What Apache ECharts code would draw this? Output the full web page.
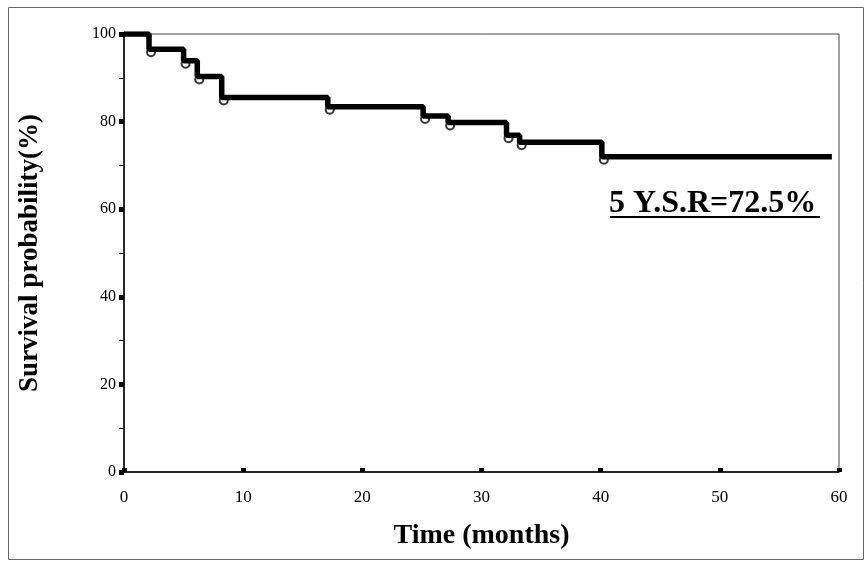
<!DOCTYPE html>
<html>
<head>
<meta charset="utf-8">
<script src="https://cdn.jsdelivr.net/npm/echarts@6/dist/echarts.min.js"></script>
<style>
  html, body { margin: 0; padding: 0; background: #fff; }
  #chart { width: 865px; height: 563px; }
</style>
</head>
<body>
<div id="chart"></div>
<script>
// survival curve: time of each drop (months) and the level after it (%)
const dropTimes = [0, 2.1, 5.0, 6.15, 8.2, 17.1, 25.1, 27.2, 32.1, 33.2, 40.1, 59.4];
const survival = [100, 96.5, 93.9, 90.3, 85.5, 83.4, 81.3, 79.8, 76.9, 75.3, 72, 72];
// censored marks sit at the bottom of each drop
const markTimes = [2.1, 5.0, 6.15, 8.2, 17.1, 25.1, 27.2, 32.1, 33.2, 40.1];
const markLevels = [96.5, 93.9, 90.3, 85.5, 83.4, 81.3, 79.8, 76.9, 75.3, 72];
const xTicks = [0, 10, 20, 30, 40, 50, 60];
const yTicks = [0, 20, 40, 60, 80, 100];
const annotation = '5 Y.S.R=72.5%';

const serif = '"Liberation Serif", "DejaVu Serif", serif';
const chart = echarts.init(document.getElementById('chart'));

const option = {
  backgroundColor: '#fff',
  animation: false,
  grid: {
    left: 124,
    right: 26,
    top: 34,
    bottom: 91,
    show: true,
    borderColor: '#444',
    borderWidth: 1,
  },
  xAxis: {
    type: 'value',
    min: xTicks[0],
    max: xTicks[xTicks.length - 1],
    interval: 10,
    name: 'Time (months)',
    nameLocation: 'middle',
    nameGap: 50,
    nameTextStyle: { fontFamily: serif, fontWeight: 'bold', fontSize: 28, color: '#000' },
    axisLine: { lineStyle: { color: '#000', width: 1.5 } },
    axisTick: { inside: true, length: 4, lineStyle: { color: '#000', width: 5 } },
    axisLabel: { fontFamily: serif, fontSize: 17, color: '#000', margin: 17 },
    splitLine: { show: false },
  },
  yAxis: {
    type: 'value',
    min: yTicks[0],
    max: yTicks[yTicks.length - 1],
    interval: 20,
    name: 'Survival probability(%)',
    nameLocation: 'middle',
    nameGap: 80,
    nameTextStyle: { fontFamily: serif, fontWeight: 'bold', fontSize: 27, color: '#000' },
    axisLine: { show: true, lineStyle: { color: '#000', width: 1.5 } },
    axisTick: { show: true, length: 5, lineStyle: { color: '#000', width: 5 } },
    minorTick: { show: true, splitNumber: 2, length: 5, lineStyle: { color: '#000', width: 1 } },
    axisLabel: { fontFamily: serif, fontSize: 16, color: '#000', margin: 8 },
    splitLine: { show: false },
  },
  series: [
    {
      type: 'line',
      step: 'end',
      symbol: 'none',
      lineStyle: { color: '#000', width: 5.5 },
      data: dropTimes.map((t, i) => [t, survival[i]]),
      z: 3,
    },
    {
      type: 'scatter',
      symbol: 'emptyCircle',
      symbolSize: 8,
      symbolOffset: [2, 3],
      itemStyle: { color: '#000', borderColor: '#000', borderWidth: 1.2 },
      data: markTimes.map((t, i) => [t, markLevels[i]]),
      z: 2,
    },
  ],
  graphic: [
    {
      type: 'rect',
      left: 6,
      top: 5,
      shape: { width: 855, height: 552 },
      style: { fill: 'none', stroke: '#666', lineWidth: 1 },
      silent: true,
    },
    {
      type: 'text',
      left: 609,
      top: 188,
      style: { text: annotation, fontFamily: serif, fontWeight: 'bold', fontSize: 32, fill: '#000' },
    },
    {
      type: 'rect',
      left: 610,
      top: 216,
      shape: { width: 210, height: 2 },
      style: { fill: '#000' },
    },
  ],
};

chart.setOption(option);
</script>
</body>
</html>
